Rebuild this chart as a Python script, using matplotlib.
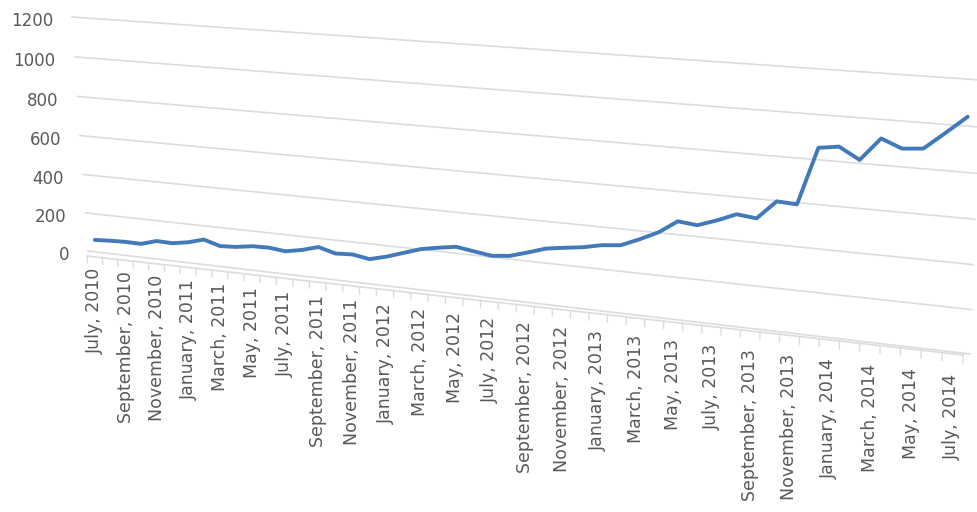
import numpy as np
import matplotlib
matplotlib.use("Agg")
import matplotlib.pyplot as plt
import matplotlib.transforms as mtransforms

# monthly values, July 2010 .. July 2014 (read against the back-wall gridlines)
values = [63, 68, 71, 70, 94, 92, 106, 129, 105, 110, 123, 125, 116, 132, 156, 133,
          138, 124, 146, 174, 202, 218, 232, 219, 207, 216, 242, 270, 283, 295, 314, 323,
          360, 402, 462, 453, 484, 521, 511, 597, 592, 853, 866, 815, 917, 880, 888, 963,
          1040]
yticks = [0, 200, 400, 600, 800, 1000, 1200]
xlabels = ["July, 2010", "September, 2010", "November, 2010", "January, 2011",
           "March, 2011", "May, 2011", "July, 2011", "September, 2011",
           "November, 2011", "January, 2012", "March, 2012", "May, 2012",
           "July, 2012", "September, 2012", "November, 2012", "January, 2013",
           "March, 2013", "May, 2013", "July, 2013", "September, 2013",
           "November, 2013", "January, 2014", "March, 2014", "May, 2014",
           "July, 2014"]

W, H = 978, 512
n = len(values)
text_c = "#595959"
grid_c = "#dadcde"


class Homography(mtransforms.Transform):
    input_dims = 2
    output_dims = 2
    is_separable = False

    def __init__(self, M):
        super().__init__()
        self.M = M

    def transform_non_affine(self, pts):
        pts = np.asarray(pts, float)
        p = np.column_stack([pts, np.ones(len(pts))]) @ self.M.T
        return p[:, :2] / p[:, 2:3]


def homography(dst):
    # unit square corners (0,0),(0,1),(1,0),(1,1) -> pixel corners
    src = [(0, 0), (0, 1), (1, 0), (1, 1)]
    A, b = [], []
    for (x, y), (X, Y) in zip(src, dst):
        A.append([x, y, 1, 0, 0, 0, -X * x, -X * y]); b.append(X)
        A.append([0, 0, 0, x, y, 1, -Y * x, -Y * y]); b.append(Y)
    h = np.linalg.solve(np.array(A, float), np.array(b, float))
    return np.append(h, 1).reshape(3, 3)


fig = plt.figure(figsize=(W / 100, H / 100), dpi=100)
ax = fig.add_axes([0, 0, 1, 1])
ax.set_xlim(0, W)
ax.set_ylim(H, 0)
ax.axis("off")

data_box = mtransforms.Bbox([[-0.5, 0], [n - 0.5, 1200]])
to_unit = mtransforms.BboxTransform(data_box, mtransforms.Bbox.unit())

# back wall (gridlines + series) and front edge of the floor (axis + labels)
wall = to_unit + Homography(homography([(88, 251), (72, 17), (970, 354), (980, 80)])) + ax.transData
front = to_unit + Homography(homography([(87, 256), (71, 22), (963, 355), (967, 81)])) + ax.transData

for v in yticks:
    ax.plot([-0.5, n - 0.5], [v, v], color=grid_c, lw=1.2, transform=wall, zorder=1)
    ax.text(-0.5, v, str(v), transform=wall + mtransforms.ScaledTranslation(-0.19, -0.045, fig.dpi_scale_trans),
            ha="right", va="center", fontsize=12, color=text_c)

# floor front edge and ticks
ax.plot([-0.5, n - 0.5], [0, 0], color=grid_c, lw=1.2, transform=front, zorder=1)
for k in range(n + 1):
    ax.plot([k - 0.5, k - 0.5], [0, -35], color=grid_c, lw=1.0, transform=front, zorder=1)

for j, lab in enumerate(xlabels):
    i = 2 * j
    ax.text(i, -(55 + 35 * i / (n - 1)), lab, rotation=90, ha="center", va="top",
            fontsize=12.5, color=text_c, transform=front)

ax.plot(np.arange(n), values, color="#4279b9", lw=2.8, solid_joinstyle="round",
        solid_capstyle="round", transform=wall, zorder=3)

fig.savefig("out.png", dpi=100)
